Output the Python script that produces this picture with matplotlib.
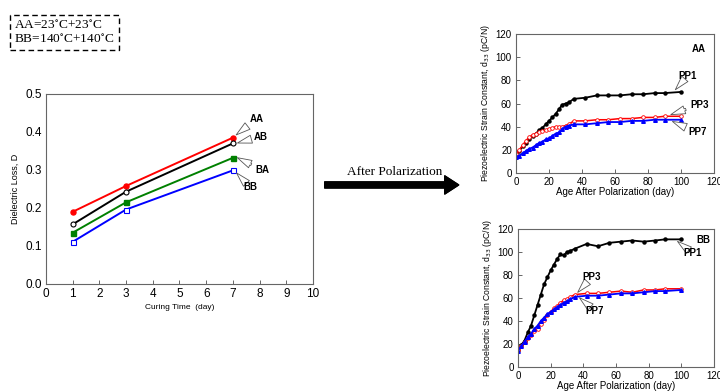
import matplotlib
matplotlib.use("Agg")
import matplotlib.pyplot as plt

plt.rcParams['font.family'] = ['Liberation Sans', 'DejaVu Sans']

# dielectric loss vs curing time
cure_days = [1, 3, 7]
loss_AA = [0.190, 0.258, 0.385]
loss_AB = [0.157, 0.243, 0.370]
loss_BA = [0.135, 0.215, 0.332]
loss_BB = [0.111, 0.196, 0.299]

# d33 after polarization, AA specimens
aa_days = [0, 2, 4, 6, 8, 10, 12, 14, 16, 18, 20, 22, 24, 26, 28, 30, 32, 35, 42, 49, 56, 63, 70, 77, 84, 90, 100]
aa_pp1 = [15, 19, 23, 26, 29, 32, 34, 37, 39, 42, 45, 48, 51, 55, 59, 60, 61, 64, 65, 67, 67, 67, 68, 68, 69, 69, 70]
aa_pp3 = [16, 20, 24, 28, 31, 33, 34, 35, 36, 37, 38, 39, 40, 40, 40, 41, 42, 45, 45, 46, 46, 47, 47, 48, 48, 49, 49]
aa_pp7 = [14, 15, 17, 19, 21, 22, 24, 26, 27, 29, 30, 32, 34, 35, 38, 40, 41, 42, 42, 43, 44, 44, 45, 45, 46, 46, 46]

# d33 after polarization, BB specimens
bb_days = [0, 2, 4, 6, 8, 10, 12, 14, 16, 18, 20, 22, 24, 26, 28, 30, 32, 35, 42, 49, 56, 63, 70, 77, 84, 90, 100]
bb_pp1 = [15, 19, 23, 30, 36, 45, 54, 63, 72, 78, 84, 89, 94, 98, 97, 100, 101, 103, 107, 105, 108, 109, 110, 109, 110, 111, 111]
bb_pp3 = [15, 18, 22, 25, 28, 31, 33, 37, 41, 45, 48, 51, 53, 56, 58, 59, 61, 63, 64, 64, 65, 66, 65, 67, 67, 68, 68]
bb_pp7 = [14, 18, 22, 26, 29, 33, 36, 40, 43, 46, 48, 50, 52, 54, 56, 57, 59, 61, 62, 62, 63, 64, 64, 65, 66, 66, 67]

frame = '#666666'
arrow_kw = dict(arrowstyle='simple,head_width=0.45,head_length=0.8,tail_width=0.12',
                fc='white', ec='#555555', lw=0.6, shrinkA=1, shrinkB=1, mutation_scale=13)

fig = plt.figure(figsize=(7.2, 3.91), dpi=100)


def style_axes(ax, fs):
    for s in ax.spines.values():
        s.set_color(frame)
        s.set_linewidth(0.8)
    ax.tick_params(direction='in', length=3, width=0.7, color=frame, labelsize=fs, pad=3)


# left panel
ax = fig.add_axes([0.0639, 0.2737, 0.3708, 0.4859])
ax.plot(cure_days, loss_AA, color='red', marker='o', ms=3.6, lw=1.4)
ax.plot(cure_days, loss_AB, color='black', marker='o', ms=3.6, mfc='white', mew=0.8, lw=1.4)
ax.plot(cure_days, loss_BA, color='green', marker='s', ms=3.6, lw=1.4)
ax.plot(cure_days, loss_BB, color='blue', marker='s', ms=3.6, mfc='white', mew=0.8, lw=1.4)
ax.set_xlim(0, 10)
ax.set_ylim(0, 0.5)
ax.set_xticks(range(0, 11))
ax.set_yticks([0, 0.1, 0.2, 0.3, 0.4, 0.5])
ax.set_yticklabels(['0.0', '0.1', '0.2', '0.3', '0.4', '0.5'])
style_axes(ax, 8.5)
ax.tick_params(axis='y', length=0)
ax.set_xlabel('Curing Time  (day)', fontsize=6, labelpad=3)
ax.set_ylabel('Dielectric Loss, D', fontsize=6.5, labelpad=4)
tb = dict(fontsize=7, fontweight='bold')
ax.annotate('AA', xy=(7.08, 0.39), xytext=(7.9, 0.435), arrowprops=arrow_kw, ha='center', va='center', **tb)
ax.annotate('AB', xy=(7.12, 0.37), xytext=(8.05, 0.388), arrowprops=arrow_kw, ha='center', va='center', **tb)
ax.annotate('BA', xy=(7.12, 0.334), xytext=(8.1, 0.3), arrowprops=arrow_kw, ha='center', va='center', **tb)
ax.annotate('BB', xy=(7.1, 0.295), xytext=(7.65, 0.254), arrowprops=arrow_kw, ha='center', va='center', **tb)

# top right panel (AA)
ax1 = fig.add_axes([0.7167, 0.5575, 0.2750, 0.3555])
ax1.plot(aa_days, aa_pp1, color='black', marker='o', ms=2.2, lw=1.3)
ax1.plot(aa_days, aa_pp3, color='red', marker='o', ms=2.6, mfc='white', mew=0.6, lw=1.1)
ax1.plot(aa_days, aa_pp7, color='blue', marker='^', ms=2.6, lw=1.3)
# bottom right panel (BB)
ax2 = fig.add_axes([0.7194, 0.0614, 0.2722, 0.3529])
ax2.plot(bb_days, bb_pp1, color='black', marker='o', ms=2.2, lw=1.3)
ax2.plot(bb_days, bb_pp3, color='red', marker='o', ms=2.6, mfc='white', mew=0.6, lw=1.1)
ax2.plot(bb_days, bb_pp7, color='blue', marker='^', ms=2.6, lw=1.3)

for a in (ax1, ax2):
    a.set_xlim(0, 120)
    a.set_ylim(0, 120)
    a.set_xticks(range(0, 121, 20))
    a.set_yticks(range(0, 121, 20))
    style_axes(a, 7)
    a.set_xlabel('Age After Polarization (day)', fontsize=7, labelpad=0)
    a.set_ylabel('Piezoelectric Strain Constant, d$_{33}$ (pC/N)', fontsize=6.2, labelpad=3)

ax1.text(0.96, 0.93, 'AA', transform=ax1.transAxes, ha='right', va='top', **tb)
ax1.annotate('PP1', xy=(96, 71), xytext=(104, 84), arrowprops=arrow_kw, ha='center', va='center', **tb)
ax1.annotate('PP3', xy=(93, 50), xytext=(111, 59), arrowprops=arrow_kw, ha='center', va='center', **tb)
ax1.annotate('PP7', xy=(94, 45), xytext=(110, 35), arrowprops=arrow_kw, ha='center', va='center', **tb)

ax2.text(0.98, 0.96, 'BB', transform=ax2.transAxes, ha='right', va='top', **tb)
ax2.annotate('PP1', xy=(97, 110), xytext=(107, 99), arrowprops=arrow_kw, ha='center', va='center', **tb)
ax2.annotate('PP3', xy=(36, 64), xytext=(45, 78), arrowprops=arrow_kw, ha='center', va='center', **tb)
ax2.annotate('PP7', xy=(37, 61), xytext=(47, 49), arrowprops=arrow_kw, ha='center', va='center', **tb)

# legend box for temperature codes
fig.text(0.02, 0.918, 'AA=23$^{\\circ}$C+23$^{\\circ}$C\nBB=140$^{\\circ}$C+140$^{\\circ}$C',
         family='Liberation Serif', fontsize=9.6, ha='left', va='center', linespacing=1.15,
         math_fontfamily='stix',
         bbox=dict(boxstyle='square,pad=0.3', fc='white', ec='black', ls=(0, (4, 2.5)), lw=1.0))

# big arrow in between
fig.text(0.548, 0.56, 'After Polarization', family='Liberation Serif', fontsize=9.5, ha='center', va='center')
fig.add_artist(plt.annotate('', xy=(0.637, 0.527), xytext=(0.451, 0.527), xycoords='figure fraction',
                            arrowprops=dict(arrowstyle='simple,head_width=1.3,head_length=1.0,tail_width=0.43',
                                            fc='black', ec='black', mutation_scale=10, shrinkA=0, shrinkB=0)))

fig.savefig('out.png', dpi=100)
